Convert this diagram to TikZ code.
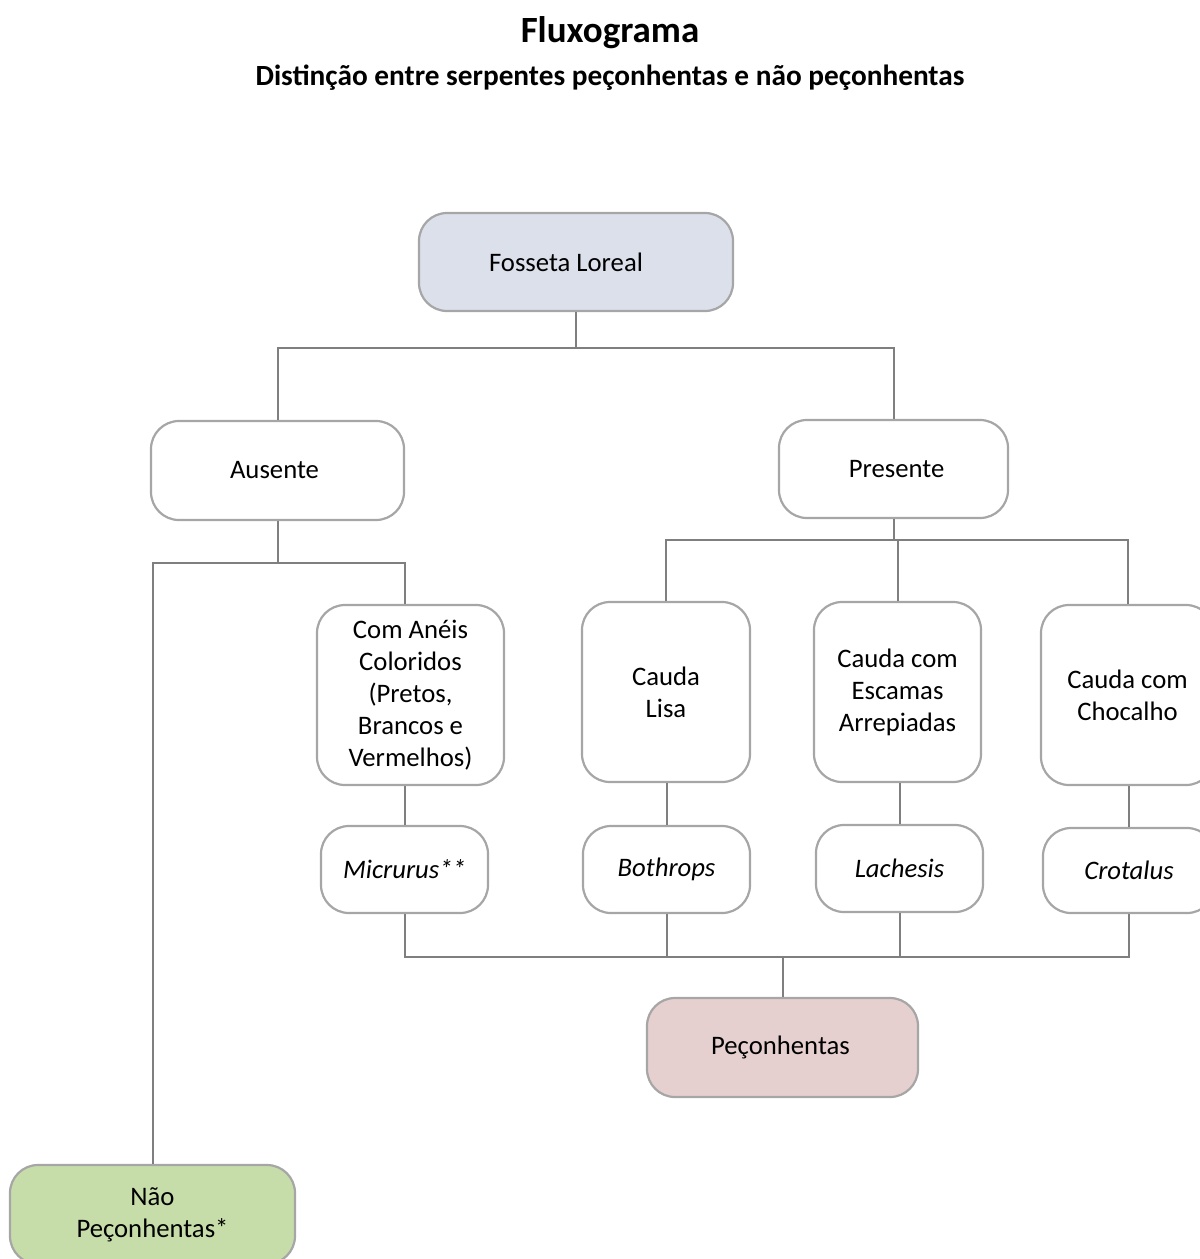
\documentclass[tikz,border=0pt]{standalone}
\usepackage{fontspec}
\setmainfont{Carlito}
\definecolor{bordc}{HTML}{A6A6A6}
\definecolor{linec}{HTML}{7F7F7F}
\definecolor{bluec}{HTML}{DCE0EB}
\definecolor{redc}{HTML}{E6D0CF}
\definecolor{greenc}{HTML}{C6DDAA}
\newcommand{\lowtxt}[1]{\raisebox{-3pt}{#1}}
\tikzset{
  box/.style={draw=bordc, line width=2.2pt, rounded corners=28pt, fill=white, align=center, inner sep=0pt,
    font=\fontsize{26.7}{32}\selectfont},
  conn/.style={draw=linec, line width=2pt},
}
\begin{document}
\begin{tikzpicture}[x=1pt,y=-1pt]
\useasboundingbox (0,0) rectangle (1200,1259);
\clip (0,0) rectangle (1200,1259);
\node[font=\fontsize{37}{40}\selectfont\bfseries] (title) at (610,33) {Fluxograma};
\node[font=\fontsize{29.3}{32}\selectfont\bfseries] (sub) at (610,78) {Distinção entre serpentes peçonhentas e não peçonhentas};

\node[box, fill=bluec, minimum width=314pt, minimum height=98pt] (fl) at (576,262) {\lowtxt{Fosseta Loreal}\hspace*{20pt}};
\node[box, minimum width=253pt, minimum height=99pt] (aus) at (277.5,470.5) {\lowtxt{Ausente}\hspace*{6pt}};
\node[box, minimum width=229pt, minimum height=98pt] (pre) at (893.5,469) {\hspace*{6pt}\lowtxt{Presente}};
\node[box, minimum width=187pt, minimum height=180pt] (ane) at (410.5,695) {Com Anéis\\Coloridos\\(Pretos,\\Brancos e\\Vermelhos)};
\node[box, minimum width=168pt, minimum height=180pt] (lis) at (666,692) {Cauda\\Lisa};
\node[box, minimum width=167pt, minimum height=180pt] (esc) at (897.5,692) {Cauda com\\Escamas\\Arrepiadas};
\node[box, minimum width=173pt, minimum height=180pt] (cho) at (1127.5,695) {Cauda com\\Chocalho};
\node[box, minimum width=167pt, minimum height=87pt] (mic) at (404.5,869.5) {\lowtxt{\itshape Micrurus**}};
\node[box, minimum width=167pt, minimum height=87pt] (bot) at (666.5,869.5) {\lowtxt{\itshape Bothrops}};
\node[box, minimum width=167pt, minimum height=87pt] (lac) at (899.5,868.5) {\lowtxt{\itshape Lachesis}};
\node[box, minimum width=172pt, minimum height=85pt] (cro) at (1129,870.5) {\lowtxt{\itshape Crotalus}};
\node[box, fill=redc, minimum width=271pt, minimum height=99pt] (pec) at (782.5,1047.5) {\lowtxt{Peçonhentas}\hspace*{4pt}};
\node[box, fill=greenc, minimum width=285pt, minimum height=99pt] (nao) at (152.5,1214.5) {Não\\Peçonhentas*};

\coordinate (j1) at (576,348);
\coordinate (j2) at (279,563);
\coordinate (j3) at (896,540);
\coordinate (j4) at (781,957);

\draw[conn] (fl.south) -- (j1);
\draw[conn] (aus.north) -- (aus.north |- j1) -- (pre.north |- j1) -- (pre.north);

\draw[conn] (aus.south) -- (aus.south |- j2);
\draw[conn] (nao.north) -- (nao.north |- j2) -- (mic.north |- j2) -- (mic.north |- ane.north);

\draw[conn] (pre.south) -- (pre.south |- j3);
\draw[conn] (lis.north) -- (lis.north |- j3) -- (cho.north |- j3) -- (cho.north);
\draw[conn] (esc.north) -- (esc.north |- j3);

\draw[conn] (mic.north |- ane.south) -- (mic.north);
\draw[conn] (bot.north |- lis.south) -- (bot.north);
\draw[conn] (lac.north |- esc.south) -- (lac.north);
\draw[conn] (cro.north |- cho.south) -- (cro.north);

\draw[conn] (mic.south) -- (mic.south |- j4) -- (cro.south |- j4) -- (cro.south);
\draw[conn] (bot.south) -- (bot.south |- j4);
\draw[conn] (lac.south) -- (lac.south |- j4);
\draw[conn] (pec.north) -- (pec.north |- j4);
\end{tikzpicture}
\end{document}
